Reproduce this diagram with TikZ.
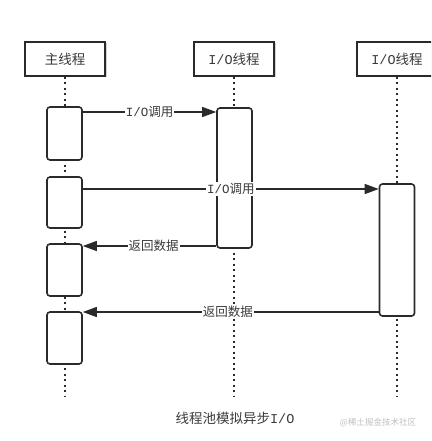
\documentclass[tikz,border=0pt]{standalone}
\usepackage{fontspec}
\setmainfont{Noto Sans CJK SC}
\newfontfamily\monof{Liberation Mono}
\usetikzlibrary{arrows.meta,calc}
\definecolor{ink}{HTML}{2A2A2A}
\definecolor{txt}{HTML}{3A3A3A}
\tikzset{
  hdr/.style={draw=ink, line width=1.4pt, fill=white, minimum width=80pt, minimum height=34pt, inner sep=0pt, text=txt, font=\fontsize{13.5}{15}\selectfont},
  act/.style={draw=ink, line width=1.6pt, fill=white, rounded corners=3pt, minimum width=35pt, inner sep=0pt},
  life/.style={draw=ink, line width=2pt, dash pattern=on 2pt off 3.5pt},
  msg/.style={draw=ink, line width=1.4pt, -{Triangle[length=14pt,width=10pt]}},
  lbl/.style={fill=white, inner sep=1pt, text=txt, font=\fontsize{12.5}{14}\selectfont}
}
\begin{document}
\begin{tikzpicture}[x=1pt,y=-1pt]
\useasboundingbox (0,0) rectangle (431,441);
\clip (0,0) rectangle (431,441);
% headers with shadow
\fill[gray!35] (26.5,43.5) rectangle (106.5,77.5);
\fill[gray!35] (195.5,43.5) rectangle (275.5,77.5);
\fill[gray!35] (358.5,43.5) rectangle (438.5,77.5);
\node[hdr] (h1) at (65,59) {主线程};
\node[hdr] (h2) at (234,59) {{\monof I/O}线程};
\node[hdr] (h3) at (397,59) {{\monof I/O}线程};
% lifeline ends
\coordinate (e1) at (65,397);
\coordinate (e2) at (234,397);
\coordinate (e3) at (397,397);
\draw[life] (h1.south) -- (e1);
\draw[life] (h2.south) -- (e2);
\draw[life] (h3.south) -- (e3);
% activations
\node[act, minimum height=53pt] (m1) at (64.5,133.5) {};
\node[act, minimum height=51pt] (m2) at (64.5,202.5) {};
\node[act, minimum height=52pt] (m3) at (64.5,270) {};
\node[act, minimum height=52pt] (m4) at (64.5,338) {};
\node[act, minimum height=140pt] (p1) at (234.5,178) {};
\node[act, minimum height=132pt] (p2) at (397,250) {};
% messages
\draw[msg] (m1.east |- 0,112) -- node[lbl, pos=0.5] {{\monof I/O}调用} (p1.west |- 0,112);
\draw[msg] (m2.east |- 0,189) -- node[lbl, pos=0.5] {{\monof I/O}调用} (p2.west |- 0,189);
\draw[msg] (p1.west |- 0,246) -- node[lbl, pos=0.47] {返回数据} (m3.east |- 0,246);
\draw[msg] (p2.west |- 0,312) -- node[lbl, pos=0.51] {返回数据} (m4.east |- 0,312);
% caption
\node[text=txt, font=\fontsize{13.5}{15}\selectfont] (cap) at (235,418) {线程池模拟异步{\monof I/O}};
\node[text=gray!50, font=\fontsize{8.5}{10}\selectfont] (wm) at (378,423) {@稀土掘金技术社区};
\end{tikzpicture}
\end{document}
